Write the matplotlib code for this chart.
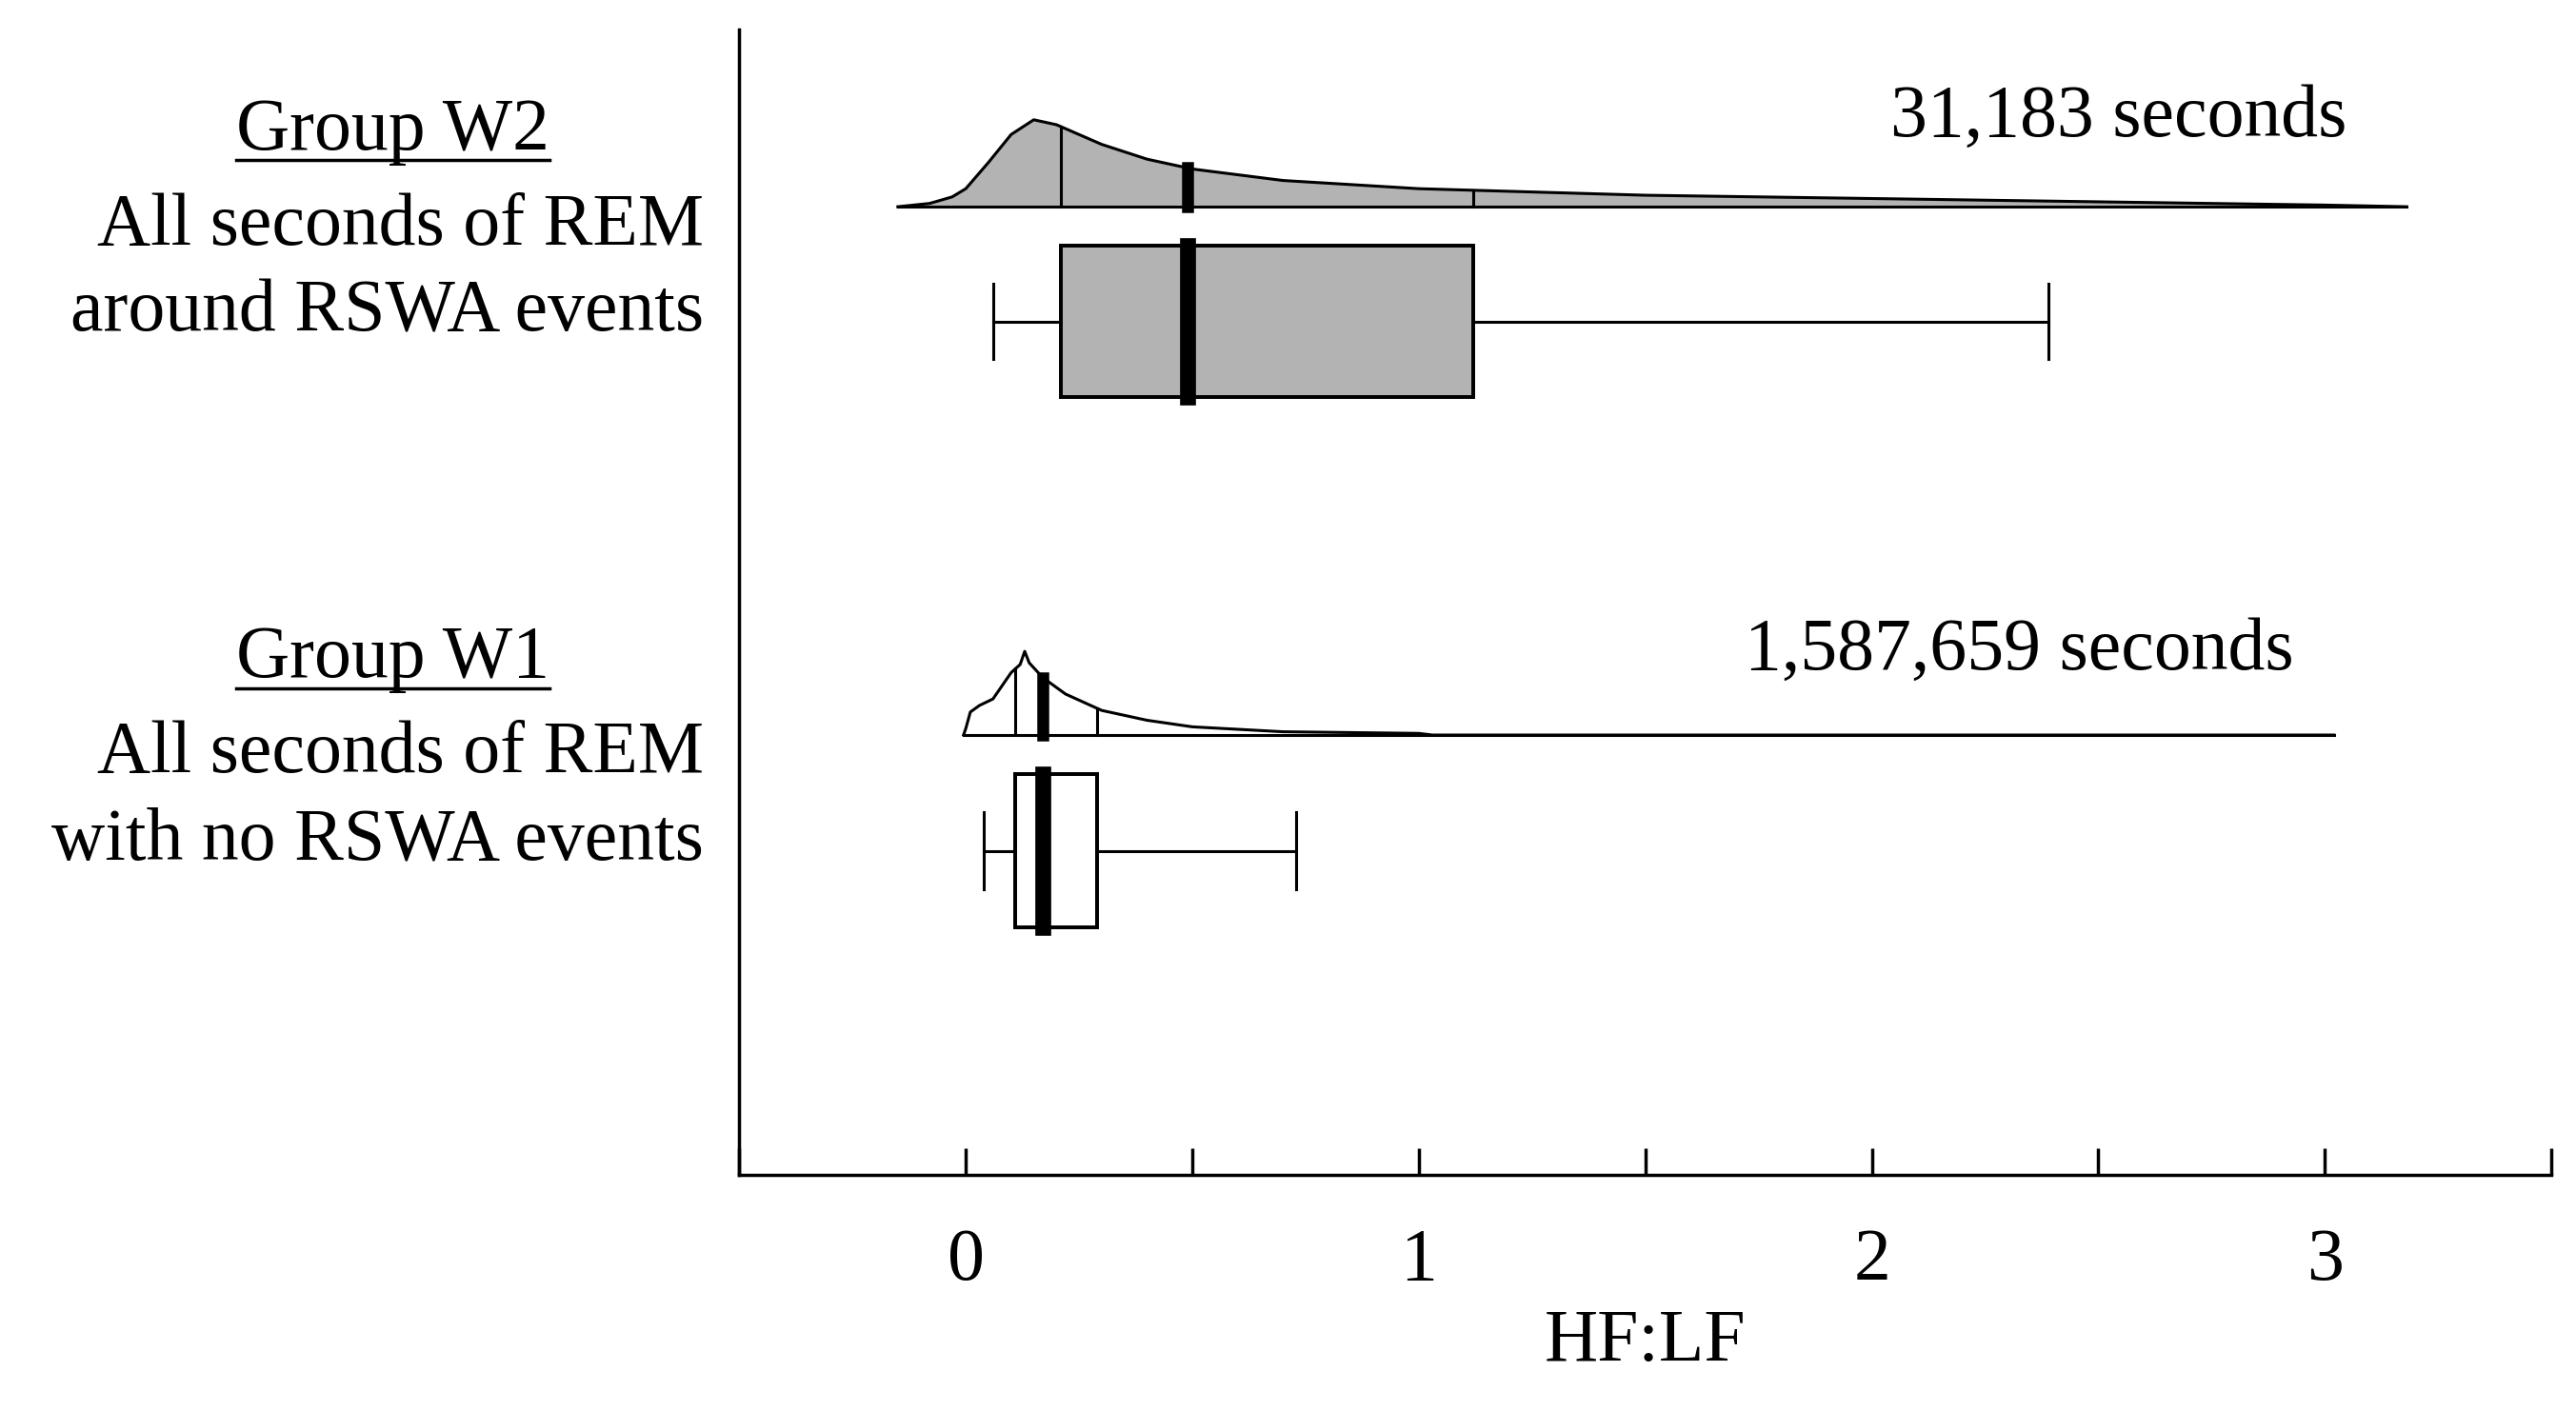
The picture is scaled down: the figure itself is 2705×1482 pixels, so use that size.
import matplotlib
matplotlib.use("Agg")
import matplotlib.pyplot as plt
from matplotlib.lines import Line2D
import numpy as np

# density outlines (x in HF:LF, height in px of reference)
w2_x = [-0.15, -0.08, -0.03, 0.0, 0.05, 0.1, 0.15, 0.2, 0.3, 0.4, 0.5, 0.7, 1.0, 1.5, 2.0, 2.5, 3.0, 3.18]
w2_h = [0, 2, 6, 11, 27, 44, 53, 50, 38, 29, 23, 16, 11, 7, 5, 3, 1, 0]
w1_x = [-0.005, 0.0, 0.01, 0.03, 0.06, 0.08, 0.1, 0.12, 0.13, 0.14, 0.17, 0.22, 0.3, 0.4, 0.5, 0.7, 1.0, 1.03, 3.02]
w1_h = [0, 4, 14, 18, 22, 30, 38, 43, 51, 44, 35, 25, 15, 9, 5, 2, 1, 0, 0]

# box stats: whisker low, Q1, median, Q3, whisker high
w2_stats = [0.06, 0.21, 0.49, 1.12, 2.39]
w1_stats = [0.04, 0.11, 0.17, 0.29, 0.73]

groups = [
    dict(title="Group W2", lines=["All seconds of REM", "around RSWA events"], n="31,183 seconds",
         dx=w2_x, dh=w2_h, stats=w2_stats, base=126, box=(150, 242), fill="#b3b3b3", ntext=(2.04, 72)),
    dict(title="Group W1", lines=["All seconds of REM", "with no RSWA events"], n="1,587,659 seconds",
         dx=w1_x, dh=w1_h, stats=w1_stats, base=448, box=(472, 565), fill="white", ntext=(1.72, 397)),
]

plt.rcParams["font.family"] = ["Liberation Serif", "DejaVu Serif"]
FS = 56

fig = plt.figure(figsize=(27.05, 14.82), dpi=100)
ax = fig.add_axes([450 / 1568, 1 - 716 / 860, (1553 - 450) / 1568, (716 - 18) / 860])
ax.set_xlim(-0.5, 3.5)
ax.set_ylim(716, 18)

lw = 2.2
for g in groups:
    xs = np.array(g["dx"], float)
    hs = np.array(g["dh"], float)
    base = g["base"]
    ax.fill_between(xs, base, base - hs, color=g["fill"], lw=0)
    ax.plot(xs, base - hs, color="black", lw=lw)
    ax.plot([xs[0], xs[-1]], [base, base], color="black", lw=lw)
    lo, q1, med, q3, hi = g["stats"]
    for q, w in [(q1, lw), (med, 9), (q3, lw)]:
        ax.plot([q, q], [base, base - np.interp(q, xs, hs)], color="black", lw=w)
    y0, y1 = g["box"]
    ym = (y0 + y1) / 2
    ax.add_patch(plt.Rectangle((q1, y0), q3 - q1, y1 - y0, facecolor=g["fill"], edgecolor="black", lw=lw * 1.3))
    ax.plot([med, med], [y0, y1], color="black", lw=12)
    ax.plot([lo, q1], [ym, ym], color="black", lw=lw)
    ax.plot([q3, hi], [ym, ym], color="black", lw=lw)
    cap = (y1 - y0) * 0.25
    for w in (lo, hi):
        ax.plot([w, w], [y0 + cap, y1 - cap], color="black", lw=lw)
    ax.text(g["ntext"][0], g["ntext"][1], g["n"], fontsize=FS, ha="left", va="center")

for s in ["top", "right"]:
    ax.spines[s].set_visible(False)
ax.spines["left"].set_linewidth(2.5)
ax.spines["bottom"].set_linewidth(2.5)
ax.set_yticks([])
ax.set_xticks(np.arange(-0.5, 3.51, 0.5))
ax.set_xticklabels(["", "0", "", "1", "", "2", "", "3", ""])
ax.tick_params(axis="x", direction="in", length=20, width=2.5, labelsize=FS, pad=40)
ax.set_xlabel("HF:LF", fontsize=FS, labelpad=10)

# left-hand labels
fig.canvas.draw()
rend = fig.canvas.get_renderer()
for g in groups:
    xt = -0.578
    yt = g["base"] - 46
    t = ax.text(-1.264, yt, g["title"], fontsize=FS, ha="center", va="center", clip_on=False)
    fig.canvas.draw()
    bb = t.get_window_extent(rend).transformed(fig.transFigure.inverted())
    fig.add_artist(Line2D([bb.x0, bb.x1], [bb.y0 + 0.004, bb.y0 + 0.004], color="black", lw=2.5,
                          transform=fig.transFigure))
    for i, s in enumerate(g["lines"]):
        ax.text(xt, yt + 58 + 53 * i, s, fontsize=FS, ha="right", va="center", clip_on=False)

fig.savefig("out.png", dpi=100, facecolor="white")
